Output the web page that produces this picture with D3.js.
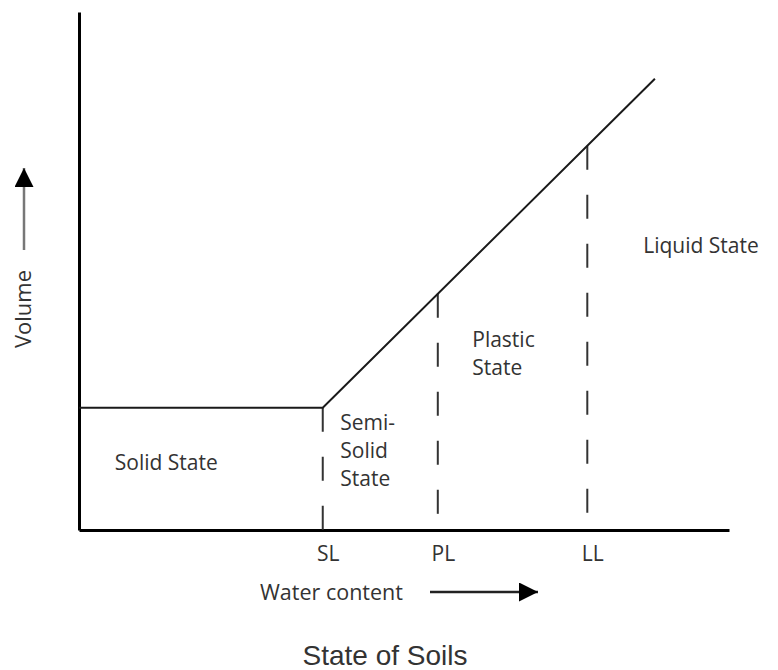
<!DOCTYPE html>
<html>
<head>
<meta charset="utf-8">
<script src="https://cdn.jsdelivr.net/npm/d3@7"></script>
<style>
  body { margin: 0; background: #fff; }
  text { font-family: "Open Sans", sans-serif; fill: #333; font-weight: 500; }
</style>
</head>
<body>
<svg id="chart" width="778" height="670"></svg>
<script>
// consistency limits on the water content axis
var limitLabels = ["SL", "PL", "LL"];
var limitValues = [37.5, 55.2, 78.2];

// volume vs water content curve
var curveWater = [0, 37.5, 88.6];
var curveVolume = [23.6, 23.6, 87.1];

// state names, one line per entry
var stateNames = [["Solid State"], ["Semi-", "Solid", "State"], ["Plastic", "State"], ["Liquid State"]];

var svg = d3.select("#chart");
var width = +svg.attr("width"),
    height = +svg.attr("height");

svg.append("rect").attr("width", width).attr("height", height).attr("fill", "#fff");

var x = d3.scaleLinear().domain([0, 100]).range([79, 729]);
var y = d3.scaleLinear().domain([0, 100]).range([530, 12]);

// piecewise curve lookup so the dashed limits stop on the line
var curveAt = d3.scaleLinear().domain(curveWater).range(curveVolume);

var fontSize = "21px";

var defs = svg.append("defs");
defs.append("marker")
    .attr("id", "head")
    .attr("viewBox", "0 0 10 10")
    .attr("refX", 10).attr("refY", 5)
    .attr("markerUnits", "userSpaceOnUse")
    .attr("markerWidth", 19).attr("markerHeight", 19)
    .attr("orient", "auto")
  .append("path")
    .attr("d", "M0,0L10,5L0,10Z")
    .attr("fill", "#000");

// axes
var xAxis = svg.append("g")
    .attr("transform", "translate(0," + y(0) + ")")
    .call(d3.axisBottom(x)
      .tickValues(limitValues)
      .tickFormat((d, i) => limitLabels[i])
      .tickSize(0)
      .tickPadding(16));
xAxis.select(".domain").attr("stroke", "#000").attr("stroke-width", 3);
xAxis.selectAll("text")
    .attr("dx", 5)
    .style("font-size", fontSize)
    .style("font-family", "'Open Sans', sans-serif")
    .attr("fill", "#333");

var yAxis = svg.append("g")
    .attr("transform", "translate(" + x(0) + ",0)")
    .call(d3.axisLeft(y).tickValues([]).tickSize(0));
yAxis.select(".domain").attr("stroke", "#000").attr("stroke-width", 3);

// dashed limit lines
svg.selectAll(".limit")
  .data(limitValues)
  .enter()
  .append("line")
    .attr("class", "limit")
    .attr("x1", d => x(d)).attr("x2", d => x(d))
    .attr("y1", d => y(curveAt(d)))
    .attr("y2", y(0))
    .attr("stroke", "#333")
    .attr("stroke-width", 2)
    .attr("stroke-dasharray", "24,25");

// volume line
var line = d3.line()
  .x(d => x(d[0]))
  .y(d => y(d[1]));

svg.append("path")
  .datum(d3.zip(curveWater, curveVolume))
  .attr("d", line)
  .attr("fill", "none")
  .attr("stroke", "#1a1a1a")
  .attr("stroke-width", 2);

// state labels
var labelPos = [[5.5, 11.6], [40.2, 19.3], [60.5, 35.3], [86.8, 53.5]];
stateNames.forEach(function(lines, i) {
  var t = svg.append("text")
    .attr("x", x(labelPos[i][0]))
    .attr("y", y(labelPos[i][1]))
    .style("font-size", fontSize);
  lines.forEach(function(s, j) {
    t.append("tspan")
      .attr("x", x(labelPos[i][0]))
      .attr("dy", j === 0 ? 0 : 28)
      .text(s);
  });
});

// axis titles with arrows
svg.append("text")
  .attr("transform", "translate(31,309) rotate(-90)")
  .attr("text-anchor", "middle")
  .style("font-size", "22px")
  .text("Volume");

svg.append("line")
  .attr("x1", 24).attr("y1", 250)
  .attr("x2", 24).attr("y2", 168)
  .attr("stroke", "#777")
  .attr("stroke-width", 2.5)
  .attr("marker-end", "url(#head)");

svg.append("text")
  .attr("x", 260).attr("y", 600)
  .style("font-size", "21.5px")
  .text("Water content");

svg.append("line")
  .attr("x1", 430).attr("y1", 592)
  .attr("x2", 538).attr("y2", 592)
  .attr("stroke", "#222")
  .attr("stroke-width", 2.5)
  .attr("marker-end", "url(#head)");

// title
svg.append("text")
  .attr("x", 385).attr("y", 665)
  .attr("text-anchor", "middle")
  .style("font-family", "'Liberation Sans', Arial, sans-serif")
  .style("font-size", "28px")
  .style("font-weight", "400")
  .attr("fill", "#000")
  .text("State of Soils");
</script>
</body>
</html>
